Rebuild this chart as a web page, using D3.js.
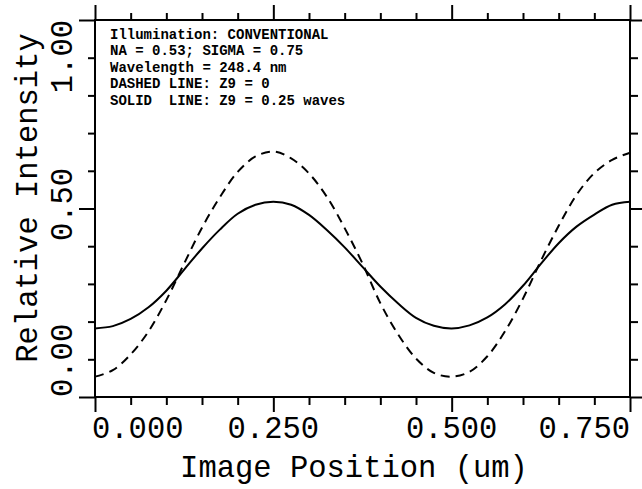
<!DOCTYPE html>
<html>
<head>
<meta charset="utf-8">
<script src="https://cdn.jsdelivr.net/npm/d3@7"></script>
<style>
  html, body { margin: 0; padding: 0; background: #fff; }
  svg { display: block; }
  text { font-family: "Liberation Mono", "Courier New", monospace; fill: #000; }
</style>
</head>
<body>
<div id="chart"></div>
<script>
// ---- data ----
const positions = [0, 0.025, 0.05, 0.075, 0.1, 0.125, 0.15, 0.175, 0.2, 0.225, 0.25,
  0.275, 0.3, 0.325, 0.35, 0.375, 0.4, 0.425, 0.45, 0.475, 0.5,
  0.525, 0.55, 0.575, 0.6, 0.625, 0.65, 0.675, 0.7, 0.725, 0.75];
const solidZ9 = [0.182, 0.188, 0.207, 0.238, 0.282, 0.338, 0.394, 0.444, 0.486, 0.510, 0.518,
  0.510, 0.483, 0.443, 0.397, 0.345, 0.293, 0.248, 0.210, 0.189, 0.182,
  0.190, 0.211, 0.246, 0.295, 0.353, 0.408, 0.452, 0.484, 0.510, 0.518];
const dashedZ0 = [0.054, 0.071, 0.113, 0.174, 0.257, 0.354, 0.449, 0.530, 0.597, 0.638, 0.651,
  0.633, 0.593, 0.531, 0.448, 0.354, 0.249, 0.166, 0.102, 0.064, 0.054,
  0.067, 0.108, 0.175, 0.261, 0.361, 0.454, 0.536, 0.594, 0.629, 0.648];
const xMajorTicks = [0, 0.25, 0.5, 0.75];
const xMinorTicks = [0.05, 0.1, 0.15, 0.2, 0.3, 0.35, 0.4, 0.45, 0.55, 0.6, 0.65, 0.7];
const xTickLabels = ["0.000", "0.250", "0.500", "0.750"];
const yMajorTicks = [0, 0.5, 1.0];
const yMinorTicks = [0.1, 0.2, 0.3, 0.4, 0.6, 0.7, 0.8, 0.9];
const yTickLabels = ["0.00", "0.50", "1.00"];
const infoLines = [
  "Illumination: CONVENTIONAL",
  "NA = 0.53; SIGMA = 0.75",
  "Wavelength = 248.4 nm",
  "DASHED LINE: Z9 = 0",
  "SOLID  LINE: Z9 = 0.25 waves"
];
const xTitle = "Image Position (um)";
const yTitle = "Relative Intensity";

// ---- layout ----
const W = 642, H = 489;
const L = 95, R = 630, T = 20, B = 397;

const svg = d3.select("#chart").append("svg")
  .attr("width", W).attr("height", H);

const x = d3.scaleLinear().domain([0, 0.75]).range([L, R]);
const y = d3.scaleLinear().domain([0, 1.0]).range([B, T]);

function styleAxis(g) {
  g.selectAll("path").remove();
  g.selectAll("line").attr("stroke", "#000").attr("stroke-width", 2);
  g.selectAll("text").remove();
}

// minor ticks
svg.append("g").attr("transform", `translate(0,${B})`)
  .call(d3.axisBottom(x).tickValues(xMinorTicks).tickSize(8)).call(styleAxis);
svg.append("g").attr("transform", `translate(0,${T})`)
  .call(d3.axisTop(x).tickValues(xMinorTicks).tickSize(7)).call(styleAxis);
svg.append("g").attr("transform", `translate(${L},0)`)
  .call(d3.axisLeft(y).tickValues(yMinorTicks).tickSize(7)).call(styleAxis);
svg.append("g").attr("transform", `translate(${R},0)`)
  .call(d3.axisRight(y).tickValues(yMinorTicks).tickSize(8)).call(styleAxis);

// major ticks
svg.append("g").attr("transform", `translate(0,${B})`)
  .call(d3.axisBottom(x).tickValues(xMajorTicks).tickSize(15)).call(styleAxis);
svg.append("g").attr("transform", `translate(0,${T})`)
  .call(d3.axisTop(x).tickValues(xMajorTicks).tickSize(15)).call(styleAxis);
svg.append("g").attr("transform", `translate(${L},0)`)
  .call(d3.axisLeft(y).tickValues(yMajorTicks).tickSize(16)).call(styleAxis);
svg.append("g").attr("transform", `translate(${R},0)`)
  .call(d3.axisRight(y).tickValues(yMajorTicks).tickSize(12)).call(styleAxis);

// frame
svg.append("rect")
  .attr("x", L).attr("y", T).attr("width", R - L).attr("height", B - T)
  .attr("fill", "none").attr("stroke", "#000").attr("stroke-width", 2);

// x tick labels
const xAnchors = ["start", "middle", "middle", "end"];
svg.append("g").selectAll("text").data(xMajorTicks).join("text")
  .attr("x", (d, i) => x(d) + (i === 0 ? -3 : 0))
  .attr("y", 438)
  .attr("text-anchor", (d, i) => xAnchors[i])
  .style("font-size", "30.5px")
  .text((d, i) => xTickLabels[i]);

// y tick labels (rotated)
const yAnchors = ["start", "middle", "end"];
svg.append("g").selectAll("text").data(yMajorTicks).join("text")
  .attr("transform", (d, i) => `translate(72,${y(d) + (i === 1 ? -4 : 0)}) rotate(-90)`)
  .attr("text-anchor", (d, i) => yAnchors[i])
  .style("font-size", "30.5px")
  .text((d, i) => yTickLabels[i]);

// axis titles
svg.append("text")
  .attr("x", 354).attr("y", 477)
  .attr("text-anchor", "middle")
  .style("font-size", "30.5px")
  .text(xTitle);
svg.append("text")
  .attr("transform", `translate(37,198) rotate(-90)`)
  .attr("text-anchor", "middle")
  .style("font-size", "30.5px")
  .text(yTitle);

// curves
const data = positions.map((p, i) => ({ p, s: solidZ9[i], d: dashedZ0[i] }));
const lineS = d3.line().x(d => x(d.p)).y(d => y(d.s)).curve(d3.curveCatmullRom);
const lineD = d3.line().x(d => x(d.p)).y(d => y(d.d)).curve(d3.curveCatmullRom);
svg.append("path").datum(data).attr("d", lineS)
  .attr("fill", "none").attr("stroke", "#000").attr("stroke-width", 2);
svg.append("path").datum(data).attr("d", lineD)
  .attr("fill", "none").attr("stroke", "#000").attr("stroke-width", 2)
  .attr("stroke-dasharray", "9,6");

// info text
svg.append("g").selectAll("text").data(infoLines).join("text")
  .attr("x", 110)
  .attr("y", (d, i) => 38.5 + i * 16.5)
  .attr("xml:space", "preserve")
  .style("white-space", "pre")
  .style("font-size", "14px")
  .style("font-weight", "bold")
  .text(d => d);
</script>
</body>
</html>
